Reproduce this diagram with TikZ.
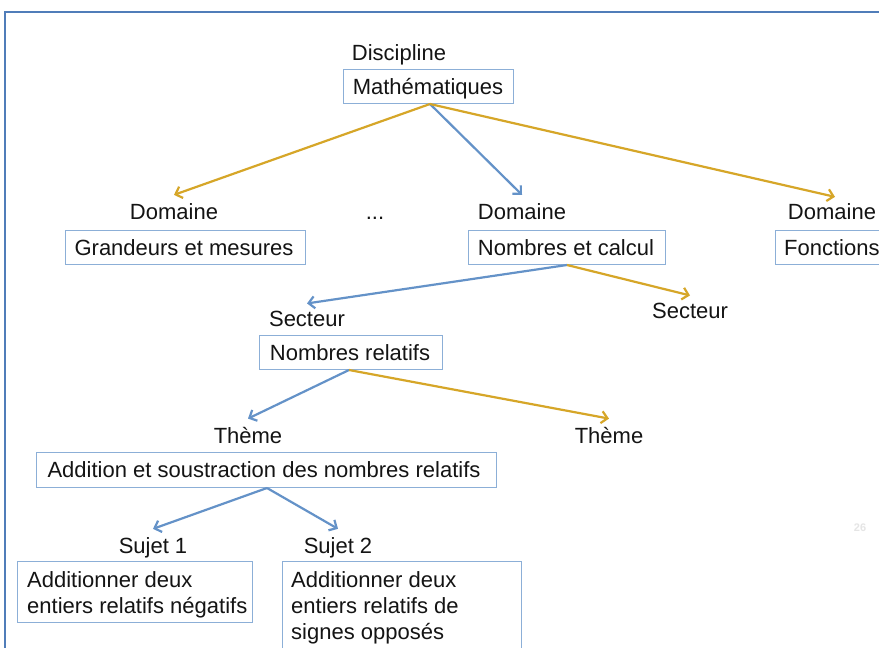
\documentclass[tikz,border=0pt]{standalone}
\usepackage{fontspec}
\setmainfont{Liberation Sans}
\usetikzlibrary{arrows.meta}
\definecolor{goldc}{RGB}{214,166,40}
\definecolor{bluec}{RGB}{100,146,200}
\definecolor{boxc}{RGB}{140,175,215}
\definecolor{framec}{RGB}{80,125,185}
\definecolor{txtc}{RGB}{20,20,20}
\tikzset{
  every node/.style={font=\fontsize{22}{26}\selectfont, text=txtc},
  lbl/.style={inner sep=0pt, anchor=base},
  cbox/.style={draw=boxc, line width=1.2pt, inner sep=0pt, anchor=north west},
  goldarr/.style={draw=goldc, line width=2.2pt, -{Straight Barb[length=6pt,width=12pt,line width=2.2pt]}},
  bluearr/.style={draw=bluec, line width=2.2pt, -{Straight Barb[length=6pt,width=12pt,line width=2.2pt]}},
}
\begin{document}
\begin{tikzpicture}[x=1pt,y=1pt]
\useasboundingbox (0,0) rectangle (879,-648);
\clip (0,0) rectangle (879,-648);
\fill[white] (0,0) rectangle (879,-648);
% frame
\draw[framec, line width=2pt] (5,-700) -- (5,-12) -- (900,-12);

% discipline
\node[lbl] (discl) at (399,-60) {Discipline};
\node[cbox, minimum width=170pt, minimum height=34pt] (math) at (343,-69) {};
\node[lbl] (matht) at (428,-94) {Mathématiques};

% domaines
\node[lbl] (d1l) at (174,-219) {Domaine};
\node[cbox, minimum width=240pt, minimum height=34pt] (d1) at (65,-230) {};
\node[lbl] (d1t) at (184,-255) {Grandeurs et mesures};

\node[lbl] (dots) at (375,-219) {...};

\node[lbl] (d2l) at (522,-219) {Domaine};
\node[cbox, minimum width=197pt, minimum height=34pt] (d2) at (468,-230) {};
\node[lbl] (d2t) at (566,-255) {Nombres et calcul};

\node[lbl] (d3l) at (832,-219) {Domaine};
\node[cbox, minimum width=150pt, minimum height=34pt] (d3) at (775,-230) {};
\node[lbl, anchor=base west] (d3t) at (784,-255) {Fonctions};

% secteurs
\node[lbl] (s1l) at (307,-326) {Secteur};
\node[cbox, minimum width=183pt, minimum height=34pt] (s1) at (259,-335) {};
\node[lbl] (s1t) at (350,-360) {Nombres relatifs};
\node[lbl] (s2l) at (690,-318) {Secteur};

% themes
\node[lbl] (t1l) at (248,-443) {Thème};
\node[lbl] (t2l) at (609,-443) {Thème};
\node[cbox, minimum width=460pt, minimum height=35pt] (t1) at (36,-452) {};
\node[lbl] (t1t) at (264,-477) {Addition et soustraction des nombres relatifs};

% sujets
\node[lbl] (j1l) at (153,-553) {Sujet 1};
\node[lbl] (j2l) at (338,-553) {Sujet 2};
\node[cbox, minimum width=235pt, minimum height=61pt] (j1) at (17,-561) {};
\node[cbox, minimum width=239pt, minimum height=100pt] (j2) at (282,-561) {};
\node[anchor=north west, inner sep=0pt, align=left] (j1t) at (27,-571) {Additionner deux\\entiers relatifs négatifs};
\node[anchor=north west, inner sep=0pt, align=left] (j2t) at (291,-571) {Additionner deux\\entiers relatifs de\\signes opposés};

% page number
\node[text=black!10, font=\fontsize{11}{12}\selectfont\bfseries] (pg) at (860,-528) {26};

% arrows
\coordinate (mathb) at (430,-104);
\draw[goldarr] (mathb) -- ([yshift=8pt]d1l.north);
\draw[bluearr] (mathb) -- ([yshift=8pt]d2l.north);
\draw[goldarr] (mathb) -- ([xshift=3pt,yshift=6pt]d3l.north);

\coordinate (d2b) at (567,-265);
\draw[bluearr] (d2b) -- ([yshift=7pt]s1l.north);
\draw[goldarr] (d2b) -- ([yshift=7pt]s2l.north);

\coordinate (s1b) at (349,-370);
\draw[bluearr] (s1b) -- ([yshift=8pt]t1l.north);
\draw[goldarr] (s1b) -- ([yshift=8pt]t2l.north);

\coordinate (t1b) at (267,-488);
\draw[bluearr] (t1b) -- ([yshift=8pt]j1l.north);
\draw[bluearr] (t1b) -- ([yshift=8pt]j2l.north);
\end{tikzpicture}
\end{document}
